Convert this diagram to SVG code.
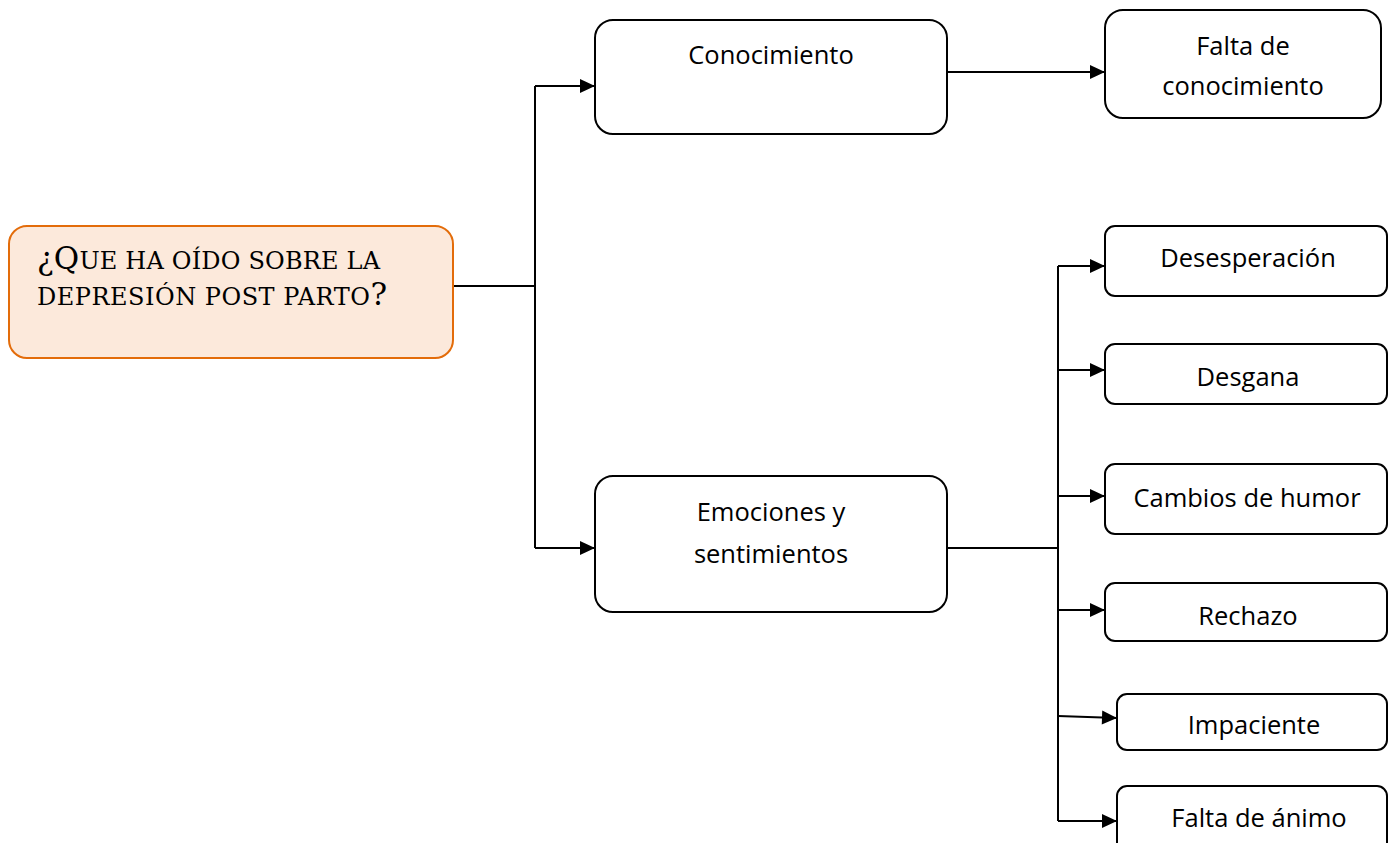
<svg xmlns="http://www.w3.org/2000/svg" width="1388" height="843" viewBox="0 0 1388 843">
<style>
.box{fill:#fff;stroke:#000;stroke-width:2}
.root{fill:#FCE9DB;stroke:#E36C0A;stroke-width:2}
.t{font-family:"Open Sans","Liberation Sans",sans-serif;font-size:25.5px;fill:#000;text-anchor:middle}
.title{font-family:"DejaVu Serif","Liberation Serif",serif;font-size:24px;fill:#000}
.big{font-size:31px}
.c{fill:none;stroke:#000;stroke-width:2}
</style>
<defs>
<marker id="ah" viewBox="0 0 15 14" refX="15" refY="7" markerWidth="15" markerHeight="14" markerUnits="userSpaceOnUse" orient="auto" style="overflow:visible">
<path d="M0,0 L15,7 L0,14 z" fill="#000"/>
</marker>
</defs>
<g id="connectors">
<path class="c" d="M453,286 H535"/>
<path class="c" d="M535,86 V548"/>
<path class="c" d="M535,86 H595" marker-end="url(#ah)"/>
<path class="c" d="M535,548 H595" marker-end="url(#ah)"/>
<path class="c" d="M947,72 H1105" marker-end="url(#ah)"/>
<path class="c" d="M947,548 H1058"/>
<path class="c" d="M1058,266 V821"/>
<path class="c" d="M1058,266 H1105" marker-end="url(#ah)"/>
<path class="c" d="M1058,370 H1105" marker-end="url(#ah)"/>
<path class="c" d="M1058,496 H1105" marker-end="url(#ah)"/>
<path class="c" d="M1058,610 H1105" marker-end="url(#ah)"/>
<path class="c" d="M1058,716 L1117,718" marker-end="url(#ah)"/>
<path class="c" d="M1058,821 H1117" marker-end="url(#ah)"/>
</g>
<g id="root">
<rect class="root" x="9" y="226" width="444" height="132" rx="18"/>
<text class="title" x="37" y="269" textLength="343" lengthAdjust="spacing"><tspan class="big">¿Q</tspan>UE HA OÍDO SOBRE LA</text>
<text class="title" x="37" y="305" textLength="350" lengthAdjust="spacing">DEPRESIÓN POST PARTO<tspan class="big">?</tspan></text>
</g>
<g id="conocimiento">
<rect class="box" x="595" y="20" width="352" height="114" rx="18"/>
<text class="t" x="771" y="64">Conocimiento</text>
</g>
<g id="falta-conocimiento">
<rect class="box" x="1105" y="10" width="276" height="108" rx="18"/>
<text class="t" x="1243" y="55">Falta de</text>
<text class="t" x="1243" y="95">conocimiento</text>
</g>
<g id="emociones">
<rect class="box" x="595" y="476" width="352" height="136" rx="18"/>
<text class="t" x="771" y="521">Emociones y</text>
<text class="t" x="771" y="563">sentimientos</text>
</g>
<g id="desesperacion">
<rect class="box" x="1105" y="226" width="282" height="70" rx="10"/>
<text class="t" x="1248" y="267">Desesperación</text>
</g>
<g id="desgana">
<rect class="box" x="1105" y="344" width="282" height="60" rx="10"/>
<text class="t" x="1248" y="386">Desgana</text>
</g>
<g id="cambios">
<rect class="box" x="1105" y="464" width="282" height="70" rx="10"/>
<text class="t" x="1247" y="507">Cambios de humor</text>
</g>
<g id="rechazo">
<rect class="box" x="1105" y="583" width="282" height="58" rx="10"/>
<text class="t" x="1248" y="625">Rechazo</text>
</g>
<g id="impaciente">
<rect class="box" x="1117" y="694" width="270" height="56" rx="10"/>
<text class="t" x="1254" y="734">Impaciente</text>
</g>
<g id="falta-animo">
<rect class="box" x="1117" y="786" width="270" height="70" rx="10"/>
<text class="t" x="1259" y="827">Falta de ánimo</text>
</g>
</svg>
